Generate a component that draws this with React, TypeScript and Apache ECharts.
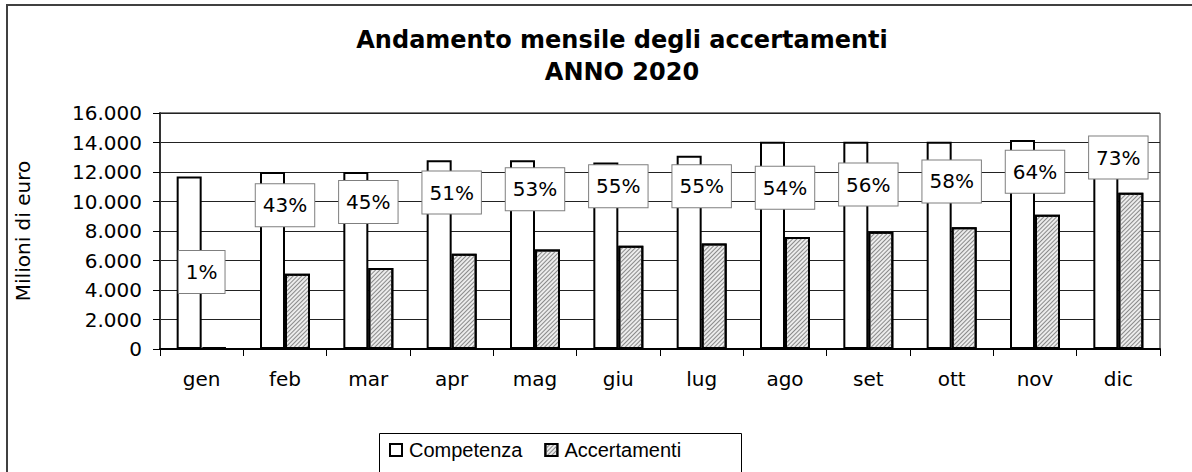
import React, { useEffect, useRef } from "react";
import * as echarts from "echarts";

const categories = ["gen", "feb", "mar", "apr", "mag", "giu", "lug", "ago", "set", "ott", "nov", "dic"];
const competenza = [11700, 12000, 12000, 12800, 12800, 12650, 13100, 14050, 14050, 14050, 14170, 14400];
const accertamenti = [120, 5100, 5500, 6450, 6750, 7000, 7150, 7600, 7950, 8250, 9100, 10600];
const percentuali = [1, 43, 45, 51, 53, 55, 55, 54, 56, 58, 64, 73];
const titleLines = ["Andamento mensile degli accertamenti", "ANNO 2020"];
const yAxisName = "Milioni di euro";
const seriesNames = ["Competenza", "Accertamenti"];

const fmtThousands = (v: number) => String(v).replace(/\B(?=(\d{3})+(?!\d))/g, ".");

export default function App() {
  const ref = useRef<HTMLDivElement>(null);
  useEffect(() => {
    if (!ref.current) return;
    const chart = echarts.init(ref.current, null, { renderer: "svg" });
    const axisFont = { fontFamily: "DejaVu Sans", fontSize: 20, color: "#000" };
    chart.setOption({
      animation: false,
      backgroundColor: "#fff",
      title: {
        text: titleLines.join("\n"),
        left: 617,
        top: 19,
        textAlign: "center",
        textStyle: {
          fontFamily: "DejaVu Sans",
          fontWeight: "bold",
          fontSize: 24,
          lineHeight: 32,
          color: "#000",
        },
      },
      legend: {
        data: seriesNames,
        left: 389,
        top: 440,
        padding: 0,
        itemWidth: 12,
        itemHeight: 12,
        itemGap: 22,
        icon: "rect",
        textStyle: { fontFamily: "Liberation Sans", fontSize: 20, color: "#000", padding: [0, 0, 0, 2] },
      },
      grid: {
        left: 160,
        right: 32,
        top: 113,
        bottom: 123,
        show: true,
        borderColor: "#000",
        borderWidth: 1,
        backgroundColor: "transparent",
      },
      xAxis: {
        type: "category",
        data: categories,
        axisLine: { lineStyle: { color: "#000", width: 2 } },
        axisTick: { show: true, length: 7, lineStyle: { color: "#000", width: 1 } },
        axisLabel: { ...axisFont, margin: 20 },
      },
      yAxis: [
        {
          type: "value",
          min: 0,
          max: 16000,
          interval: 2000,
          name: yAxisName,
          nameLocation: "middle",
          nameRotate: 90,
          nameGap: 127,
          nameTextStyle: { fontFamily: "DejaVu Sans", fontSize: 20, color: "#000" },
          axisLine: { show: true, lineStyle: { color: "#333", width: 2 } },
          axisTick: { show: true, length: 7, lineStyle: { color: "#000", width: 1 } },
          axisLabel: { ...axisFont, margin: 18, formatter: (v: number) => fmtThousands(v) },
          splitLine: { show: true, lineStyle: { color: "#222", width: 1 } },
        },
        {
          type: "value",
          min: -47.4,
          max: 101,
          show: false,
          splitLine: { show: false },
        },
      ],
      series: [
        {
          name: seriesNames[0],
          type: "bar",
          data: competenza,
          barWidth: 25,
          barGap: "0%",
          itemStyle: { color: "#fff", borderColor: "#000", borderWidth: 2 },
        },
        {
          name: seriesNames[1],
          type: "bar",
          data: accertamenti,
          barWidth: 25,
          barGap: "0%",
          itemStyle: {
            color: "#ececec",
            borderColor: "#000",
            borderWidth: 2,
            decal: {
              symbol: "rect",
              symbolSize: 1,
              color: "#8a8a8a",
              dashArrayX: [1, 0],
              dashArrayY: [1, 2],
              rotation: -Math.PI / 4,
            },
          },
        },
        {
          name: "Percentuale",
          type: "line",
          yAxisIndex: 1,
          data: percentuali,
          symbol: "circle",
          symbolSize: 1,
          showSymbol: true,
          showAllSymbol: true,
          lineStyle: { width: 0, color: "rgba(0,0,0,0)" },
          itemStyle: { color: "rgba(0,0,0,0)" },
          z: 10,
          label: {
            show: true,
            position: "inside",
            formatter: (p: any) => p.value + "%",
            fontFamily: "DejaVu Sans",
            fontSize: 20,
            color: "#000",
            backgroundColor: "#fff",
            borderColor: "#7f7f7f",
            borderWidth: 1,
            padding: [11, 7, 11, 7],
          },
          emphasis: { disabled: true },
        },
      ],
      graphic: [
        {
          type: "rect",
          shape: { x: 7, y: 5, width: 1200, height: 500 },
          style: { fill: "none", stroke: "#404040", lineWidth: 2 },
          silent: true,
        },
        {
          type: "rect",
          shape: { x: 379.5, y: 433.5, width: 362, height: 60 },
          style: { fill: "none", stroke: "#000", lineWidth: 1 },
          silent: true,
        },
      ],
    });
    return () => chart.dispose();
  }, []);
  return (
    <div
      ref={ref}
      style={{ position: "absolute", left: 0, top: 0, width: 1192, height: 472, background: "#fff" }}
    />
  );
}
